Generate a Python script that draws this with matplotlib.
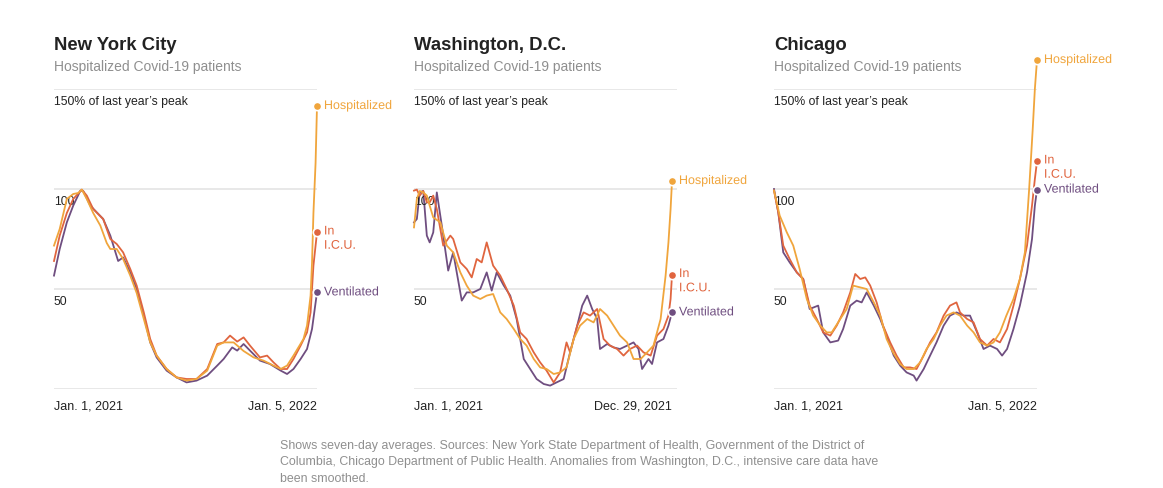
import matplotlib.pyplot as plt
import matplotlib.patheffects as pe

plt.rcParams['font.family'] = ['Liberation Sans', 'DejaVu Sans']

HOSP_COLOR = '#f0a53c'
ICU_COLOR = '#e0653f'
VENT_COLOR = '#6f4e80'
GRID_COLOR = '#e6e6e6'

cities = ['New York City', 'Washington, D.C.', 'Chicago']
subtitle = 'Hospitalized Covid-19 patients'
start_label = 'Jan. 1, 2021'
end_labels = ['Jan. 5, 2022', 'Dec. 29, 2021', 'Jan. 5, 2022']
end_days = [369, 362, 369]
axis_days = 369
grid_values = [0, 50, 100, 150]
grid_labels = {150: '150% of last year\u2019s peak', 100: '100', 50: '50'}

# values are percent of last year's peak, x is days since Jan. 1, 2021
nyc_hosp_days = [0, 8, 18, 27, 34, 39, 46, 55, 65, 74, 79, 88, 97, 107, 116, 126, 135, 144, 158, 172,
                 186, 200, 215, 229, 238, 252, 266, 280, 294, 308, 318, 327, 336, 350, 355, 360, 362, 364, 367, 369]
nyc_hosp = [71.7, 80, 95, 97.5, 98, 99.7, 95, 88, 81.7, 73, 70, 70, 65, 56.7, 48, 35, 23.3, 16.7, 10, 5.8,
            4.2, 5, 9.2, 21.7, 23.3, 23.3, 19, 15.8, 14.2, 11.7, 10, 11.7, 16.7, 25, 31.7, 46.7, 63, 88, 113, 141.5]
nyc_icu_days = [0, 8, 18, 27, 39, 46, 55, 69, 79, 88, 97, 107, 116, 126, 135, 144, 158, 172, 186, 200,
                215, 229, 238, 247, 257, 266, 275, 289, 299, 308, 318, 327, 336, 346, 355, 360, 364, 369]
nyc_icu = [64, 76.7, 88, 95, 99.7, 96.7, 90, 85, 75, 72.5, 68.3, 60, 51.7, 38.3, 25, 16.7, 10, 5.8, 5, 5,
           10, 22.5, 23.3, 26.7, 23.7, 25.8, 21.7, 15.8, 16.7, 13.3, 10, 10, 15, 21.7, 28.3, 38.3, 61.7, 78.3]
nyc_vent_days = [0, 8, 18, 27, 37, 41, 51, 60, 69, 79, 90, 97, 107, 116, 126, 135, 144, 158, 172, 186,
                 200, 215, 229, 238, 250, 257, 266, 275, 289, 303, 318, 327, 336, 346, 355, 362, 369]
nyc_vent = [56.7, 70, 83.3, 91.7, 99.2, 99, 91.7, 88.3, 85, 76.7, 64, 65.8, 58.3, 50, 36.7, 23.3, 15.8, 9.2, 5.8, 3.3,
            4.2, 6.7, 11.7, 15, 20.8, 19.2, 22.5, 19.2, 14.2, 12.5, 9.2, 7.5, 10, 15, 20, 30, 48.3]

dc_hosp_days = [0, 4, 8, 13, 18, 22, 27, 37, 46, 55, 65, 74, 83, 93, 102, 111, 121, 130, 140, 149, 158, 168,
                177, 186, 196, 205, 214, 224, 233, 243, 252, 261, 271, 280, 289, 299, 308, 318, 327, 336, 346,
                353, 357, 360, 362]
dc_hosp = [80.8, 95, 99, 98.3, 96.7, 91.7, 85.8, 83.3, 71.7, 68.3, 58.3, 51.7, 46.7, 45, 46.7, 47.5, 38.3, 35, 30,
           25, 21.7, 15, 10.8, 10, 7.5, 8.3, 10.8, 25, 31.7, 35, 33.3, 40, 36.7, 31.7, 26.7, 23.3, 15, 15, 18.3,
           21.7, 35, 56.7, 73.3, 90, 104]
dc_icu_days = [0, 4, 8, 13, 18, 22, 27, 32, 41, 51, 55, 65, 74, 81, 88, 95, 102, 111, 121, 130, 140, 149, 158,
               168, 177, 186, 196, 205, 214, 219, 229, 238, 247, 257, 266, 275, 285, 294, 303, 313, 322, 332,
               341, 350, 357, 360, 362]
dc_icu = [99.2, 99.7, 96.7, 99, 93.3, 93.3, 96.7, 90, 71.7, 76.7, 75, 63.3, 60, 55.8, 65, 63.3, 73.3, 61.7, 56.7,
          50, 41.7, 28.3, 25, 18.3, 13.3, 9.2, 3.3, 8.3, 23.3, 18.3, 31.7, 38.3, 36.7, 40, 25, 21.7, 20, 16.7,
          20, 21.7, 18.3, 16.7, 26.7, 30, 36.7, 45, 57]
dc_vent_days = [0, 4, 8, 13, 18, 22, 27, 32, 39, 48, 55, 67, 74, 83, 93, 102, 109, 116, 126, 135, 144, 154, 163,
                172, 182, 191, 200, 210, 219, 229, 236, 243, 250, 257, 261, 271, 280, 289, 299, 308, 315, 320,
                329, 334, 341, 350, 357, 362]
dc_vent = [83.3, 85, 98.3, 99, 76.7, 73.3, 78.3, 98.3, 81.7, 59.2, 68.3, 44.2, 48.3, 48.3, 50, 58.3, 49.2, 58.3,
           51.7, 46.7, 35, 15, 10, 5, 2.5, 1.7, 3.3, 5, 18.3, 31.7, 41.7, 46.7, 40, 35, 20, 22.5, 20.8, 20, 21.7,
           23.3, 20, 10, 15, 12.5, 23.3, 25, 31.7, 38.3]

chi_hosp_days = [0, 8, 18, 27, 36, 46, 55, 65, 74, 81, 93, 102, 111, 121, 130, 140, 149, 158, 167, 177, 186,
                 196, 205, 214, 224, 233, 242, 252, 261, 271, 280, 289, 299, 308, 317, 326, 336, 345, 352, 358,
                 363, 366, 369]
chi_hosp = [99.2, 86.7, 78.3, 71.7, 60, 45, 36.7, 31.7, 28.3, 28.3, 35, 40, 51.7, 50.8, 50, 43.3, 36.7, 25, 18.3,
            12.5, 10, 10, 13.3, 20, 25, 31.7, 36.7, 38.3, 36.7, 31.7, 28.3, 23.3, 21.7, 23.3, 28.3, 36.7, 45, 55,
            68.3, 100, 130, 150, 164.5]
chi_icu_days = [0, 6, 13, 22, 32, 41, 50, 60, 69, 79, 88, 97, 107, 114, 121, 128, 135, 144, 153, 163, 172, 182,
                191, 200, 210, 219, 228, 238, 247, 256, 261, 271, 280, 289, 299, 308, 317, 327, 336, 345, 355,
                362, 366, 369]
chi_icu = [99.2, 88.3, 71.7, 65, 58.3, 55, 41.7, 35, 28.3, 26.7, 31.7, 38.3, 48.3, 57.5, 55, 55.8, 51.7, 43.3,
           31.7, 23.3, 16.7, 10.8, 10.8, 10, 16.7, 23.3, 28.3, 36.7, 41.7, 43.3, 38.3, 35, 33.3, 25, 21.7, 25,
           23.3, 30, 41.7, 55, 71.7, 91.7, 105, 113.8]
chi_vent_days = [0, 6, 13, 22, 32, 41, 50, 62, 69, 79, 90, 97, 107, 116, 123, 130, 140, 149, 158, 168, 177, 186,
                 196, 200, 210, 219, 228, 238, 247, 256, 266, 275, 285, 294, 303, 313, 320, 327, 336, 345, 355,
                 362, 366, 369]
chi_vent = [100, 88.3, 68.3, 63.3, 58.3, 55, 40, 41.7, 28.3, 23.3, 24.2, 30, 41.7, 44.2, 43.3, 48.3, 41.7, 35,
            26.7, 16.7, 11.7, 8.3, 6.7, 4.2, 10, 16.7, 23.3, 31.7, 36.7, 38.3, 36.7, 36.7, 28.3, 20, 21.7, 20,
            16.7, 20, 30, 41.7, 58.3, 75, 91.7, 99.7]

panels = [
    [(nyc_hosp_days, nyc_hosp), (nyc_icu_days, nyc_icu), (nyc_vent_days, nyc_vent)],
    [(dc_hosp_days, dc_hosp), (dc_icu_days, dc_icu), (dc_vent_days, dc_vent)],
    [(chi_hosp_days, chi_hosp), (chi_icu_days, chi_icu), (chi_vent_days, chi_vent)],
]
series_names = ['Hospitalized', 'In\nI.C.U.', 'Ventilated']
series_colors = [HOSP_COLOR, ICU_COLOR, VENT_COLOR]

W, H = 1163, 489
fig = plt.figure(figsize=(W / 100, H / 100), dpi=100)
fig.patch.set_facecolor('white')

lefts = [54, 414, 774]
for i in range(3):
    ax = fig.add_axes([lefts[i] / W, (H - 390) / H, 263 / W, 300 / H])
    ax.set_xlim(0, axis_days)
    ax.set_ylim(0, 150)
    ax.axis('off')

    for g in grid_values:
        ax.axhline(g, color=GRID_COLOR, lw=1.3, zorder=0)
    for g, txt in grid_labels.items():
        ax.annotate(txt, xy=(0, g), xycoords=('axes fraction', 'data'), xytext=(0, -4.5),
                    textcoords='offset points', ha='left', va='top', fontsize=8.8, color='#222222')

    # draw ventilated first so hospitalized sits on top like the original
    for k in [2, 1, 0]:
        x, y = panels[i][k]
        ax.plot(x, y, color=series_colors[k], lw=1.3, clip_on=False, zorder=2 + (2 - k),
                solid_joinstyle='round')
        ax.plot(x[-1], y[-1], 'o', color=series_colors[k], ms=6, mec='white', mew=1.2,
                clip_on=False, zorder=6)
        if k == 1:
            ax.annotate(series_names[k], xy=(x[-1], y[-1]), xytext=(5, 5), textcoords='offset points',
                        ha='left', va='top', fontsize=9, color=series_colors[k], linespacing=1.25,
                        annotation_clip=False,
                        path_effects=[pe.withStroke(linewidth=3, foreground='white')])
        else:
            ax.annotate(series_names[k], xy=(x[-1], y[-1]), xytext=(5, 0), textcoords='offset points',
                        ha='left', va='center', fontsize=9, color=series_colors[k],
                        annotation_clip=False,
                        path_effects=[pe.withStroke(linewidth=3, foreground='white')])

    ax.annotate(start_label, xy=(0, 0), xytext=(0, -7.5), textcoords='offset points',
                ha='left', va='top', fontsize=9, color='#222222')
    ax.annotate(end_labels[i], xy=(end_days[i], 0), xytext=(0, -7.5), textcoords='offset points',
                ha='right', va='top', fontsize=9, color='#222222')

    fig.text(lefts[i] / W, 1 - 45 / H, cities[i], fontsize=13.3, fontweight='bold',
             color='#222222', ha='left', va='center')
    fig.text(lefts[i] / W, 1 - 67 / H, subtitle, fontsize=10, color='#8f8f8f',
             ha='left', va='center')

note = ('Shows seven-day averages. Sources: New York State Department of Health, Government of the District of\n'
        'Columbia, Chicago Department of Public Health. Anomalies from Washington, D.C., intensive care data have\n'
        'been smoothed.')
fig.text(280 / W, 1 - 440 / H, note, fontsize=8.9, color='#8f8f8f', ha='left', va='top', linespacing=1.5)

fig.savefig('out.png', dpi=100)
